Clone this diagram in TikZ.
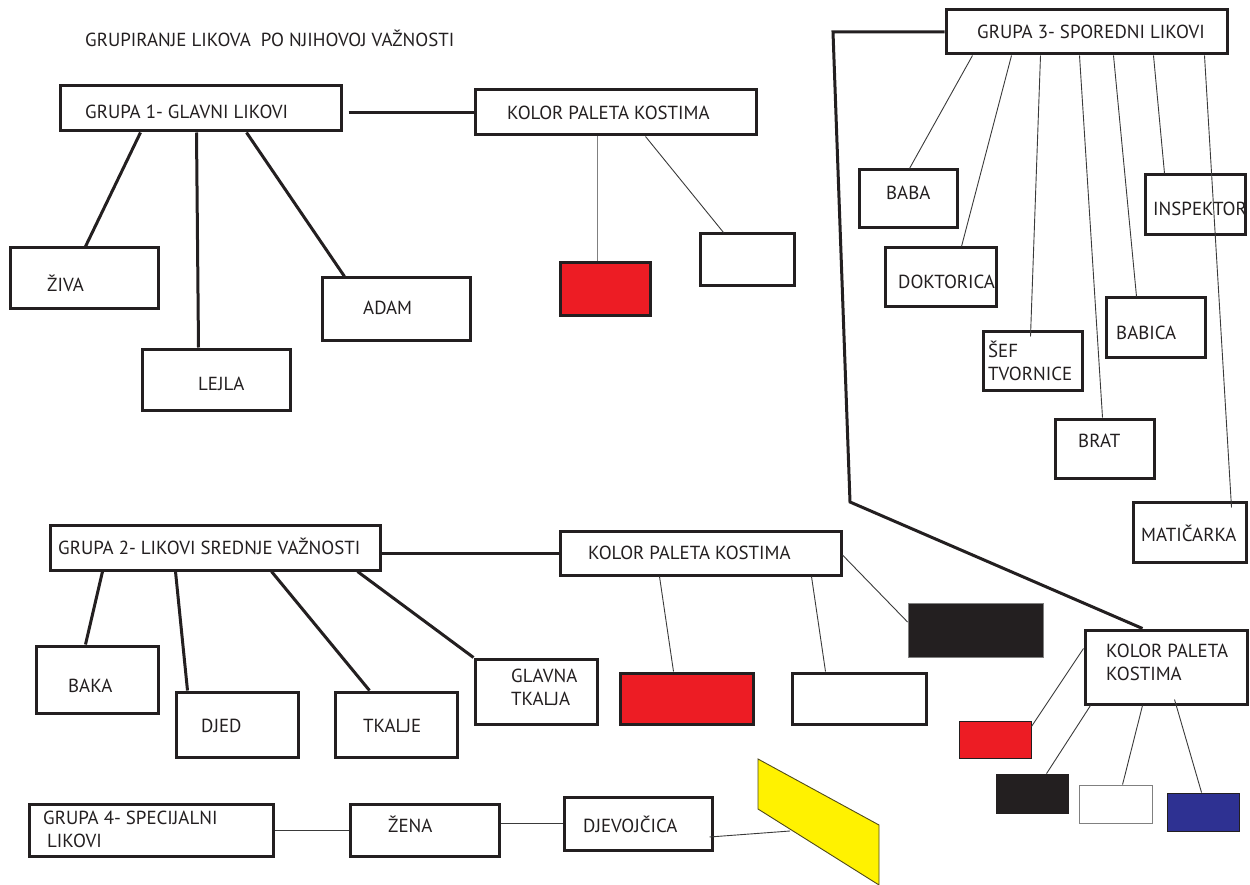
\documentclass[tikz,border=0pt]{standalone}
\usepackage{fontspec}
\setmainfont{PT Sans}
\usetikzlibrary{fit}
\definecolor{ink}{HTML}{231F20}
\definecolor{pred}{HTML}{ED1C24}
\definecolor{pblack}{HTML}{231F20}
\definecolor{pblue}{HTML}{2E3192}
\definecolor{pyellow}{HTML}{FFF200}
\definecolor{thinline}{HTML}{3A3A3A}
\newcommand\twol[2]{\begin{tabular}[t]{@{}l@{}}#1\\#2\end{tabular}}
\tikzset{
  box/.style={draw=ink, line width=3pt, fill=white, inner sep=0pt},
  thinbox/.style={draw=ink, line width=0.9pt, inner sep=0pt},
  lbl/.style={anchor=base west, inner sep=0pt, text=ink, font=\fontsize{18.9}{23.5}\selectfont},
  heavy/.style={draw=ink, line width=3pt},
  light/.style={draw=thinline, line width=0.9pt},
}
\begin{document}
\begin{tikzpicture}[x=1pt, y=-1pt]
\useasboundingbox (0,0) rectangle (1250,885);

% ---------- boxes ----------
\node[box, fit={(60,86) (341,131)}] (g1) {};
\node[box, fit={(475,90) (756,135)}] (k1) {};
\node[box, fit={(10,248) (158,309)}] (ziva) {};
\node[box, fit={(142,349) (290,410)}] (lejla) {};
\node[box, fit={(322,278) (470,340)}] (adam) {};
\node[box, fill=pred, fit={(560,263) (650,315)}] (red1) {};
\node[box, fit={(700,234) (794,286)}] (white1) {};

\node[box, fit={(946,10) (1227,54)}] (g3) {};
\node[box, fit={(859,170) (957,228)}] (baba) {};
\node[box, fit={(885,248) (996,307)}] (dokt) {};
\node[box, fit={(1145,175) (1245,235)}] (insp) {};
\node[box, fit={(983,331) (1082,390)}] (sef) {};
\node[box, fit={(1106,298) (1205,357)}] (babica) {};
\node[box, fit={(1055,419) (1154,478)}] (brat) {};
\node[box, fit={(1133,502) (1246,562)}] (mat) {};

\node[box, fit={(50,525) (380,570)}] (g2) {};
\node[box, fit={(560,531) (841,575)}] (k2) {};
\node[box, fit={(36,646) (158,713)}] (baka) {};
\node[box, fit={(176,692) (298,757)}] (djed) {};
\node[box, fit={(335,692) (457,757)}] (tkalje) {};
\node[box, fit={(475,659) (597,724)}] (glavna) {};
\node[box, fill=pred, fit={(620,673) (753,724)}] (red2) {};
\node[box, fit={(792,673) (926,724)}] (white2) {};
\node[thinbox, draw=gray, fill=pblack, fit={(908,603) (1043,657)}] (black2) {};

\node[box, fit={(1085,630) (1247,704)}] (k3) {};
\node[thinbox, fill=pred, fit={(959,721) (1031,758)}] (red3) {};
\node[thinbox, fill=pblack, fit={(996,774) (1068,813)}] (black3) {};
\node[thinbox, draw=gray, fill=white, fit={(1079,785) (1152,823)}] (white3) {};
\node[thinbox, fill=pblue, fit={(1167,793) (1239,831)}] (blue3) {};

\node[box, fit={(29,804) (273,856)}] (g4) {};
\node[box, fit={(350,804) (499,856)}] (zena) {};
\node[box, fit={(564,797) (712,850)}] (djev) {};

% yellow shape
\coordinate (ya) at (758,759);
\coordinate (yb) at (879,825);
\coordinate (yc) at (879,885);
\coordinate (yd) at (758,809);
\coordinate (yend) at (790,831);
\draw[draw=ink!80!pyellow, line width=0.9pt, fill=pyellow] (ya) -- (yb) -- (yc) -- (yd) -- cycle;

% ---------- texts ----------
\node[lbl] (title) at (85,47) {GRUPIRANJE LIKOVA\ \ PO NJIHOVOJ VAŽNOSTI};
\node[lbl] (tg1) at (85,119) {GRUPA 1- GLAVNI LIKOVI};
\node[lbl] (tk1) at (507,120) {KOLOR PALETA KOSTIMA};
\node[lbl] (tziva) at (47,292) {ŽIVA};
\node[lbl] (tlejla) at (198,390) {LEJLA};
\node[lbl] (tadam) at (363,315) {ADAM};

\node[lbl] (tg3) at (977,39) {GRUPA 3- SPOREDNI LIKOVI};
\node[lbl] (tbaba) at (886,200) {BABA};
\node[lbl] (tdokt) at (898,289) {DOKTORICA};
\node[lbl] (tinsp) at (1153,216) {INSPEKTOR};
\node[lbl] (tsef) at (988,357) {\twol{ŠEF}{TVORNICE}};
\node[lbl] (tbabica) at (1116,339) {BABICA};
\node[lbl] (tbrat) at (1078,447) {BRAT};
\node[lbl] (tmat) at (1141,541) {MATIČARKA};

\node[lbl] (tg2) at (58,554) {GRUPA 2- LIKOVI SREDNJE VAŽNOSTI};
\node[lbl] (tk2) at (588,559) {KOLOR PALETA KOSTIMA};
\node[lbl] (tbaka) at (68,692) {BAKA};
\node[lbl] (tdjed) at (201,732) {DJED};
\node[lbl] (ttkalje) at (363,732) {TKALJE};
\node[lbl] (tglavna) at (511,682) {\twol{GLAVNA}{TKALJA}};
\node[lbl] (tk3) at (1106,657) {\twol{KOLOR PALETA}{KOSTIMA}};

\node[lbl] (tg4) at (43,824) {\twol{GRUPA 4- SPECIJALNI}{\hspace{4pt}LIKOVI}};
\node[lbl] (tzena) at (388,832) {ŽENA};
\node[lbl] (tdjev) at (583,832) {DJEVOJČICA};

% ---------- connectors ----------
% group 1
\draw[heavy] ([xshift=6pt]g1.east |- k1.west) -- (k1.west);
\draw[heavy] ([xshift=82pt]g1.south west) -- ([xshift=77pt]ziva.north west);
\draw[heavy] ([xshift=138pt]g1.south west) -- ([xshift=58pt]lejla.north west);
\draw[heavy] ([xshift=188pt]g1.south west) -- ([xshift=24pt]adam.north west);
\draw[light, draw=gray] ([xshift=124pt]k1.south west) -- ([xshift=39pt]red1.north west);
\draw[light] ([xshift=172pt]k1.south west) -- ([xshift=25pt]white1.north west);

% group 3
\coordinate (c1) at (833,32);
\coordinate (c2) at (850,502);
\draw[heavy, line join=miter] (g3.west) -- (c1) -- (c2) -- ([xshift=59pt]k3.north west);
\draw[light] ([xshift=28pt]g3.south west) -- ([xshift=52pt]baba.north west);
\draw[light] ([xshift=67pt]g3.south west) -- ([xshift=78pt]dokt.north west);
\draw[light] ([xshift=96pt]g3.south west) -- ([xshift=49pt,yshift=-7pt]sef.north west);
\draw[light] ([xshift=135pt]g3.south west) -- ([xshift=49pt]brat.north west);
\draw[light] ([xshift=169pt]g3.south west) -- ([xshift=32pt]babica.north west);
\draw[light] ([xshift=209pt]g3.south west) -- ([xshift=21pt]insp.north west);
\draw[light] ([xshift=260pt]g3.south west) -- ([xshift=100pt,yshift=-7pt]mat.north west);

% group 2
\draw[heavy] (g2.east |- k2.west) -- (k2.west);
\draw[heavy] ([xshift=54pt]g2.south west) -- ([xshift=51pt]baka.north west);
\draw[heavy] ([xshift=127pt]g2.south west) -- ([xshift=13pt]djed.north west);
\draw[heavy] ([xshift=223pt]g2.south west) -- ([xshift=36pt]tkalje.north west);
\draw[heavy] ([xshift=309pt]g2.south west) -- (glavna.north west);
\draw[light] ([xshift=101pt]k2.south west) -- ([xshift=55pt]red2.north west);
\draw[light] ([xshift=253pt]k2.south west) -- ([xshift=35pt]white2.north west);
\draw[light] ([yshift=-2pt]k2.east) -- ([yshift=8pt]black2.west);

% palette 3
\draw[light] ([yshift=-20pt]k3.north west) -- ([yshift=-6pt]red3.north east);
\draw[light] ([xshift=7pt]k3.south west) -- ([xshift=51pt]black3.north west);
\draw[light] ([xshift=59pt]k3.south west) -- ([xshift=44pt]white3.north west);
\draw[light] ([xshift=91pt,yshift=6pt]k3.south west) -- ([xshift=35pt]blue3.north west);

% group 4
\draw[light] (g4.east) -- (zena.west);
\draw[light] (zena.east |- djev.west) -- (djev.west);
\draw[light] ([xshift=-4pt,yshift=-13.5pt]djev.east) -- (yend);
\end{tikzpicture}
\end{document}
